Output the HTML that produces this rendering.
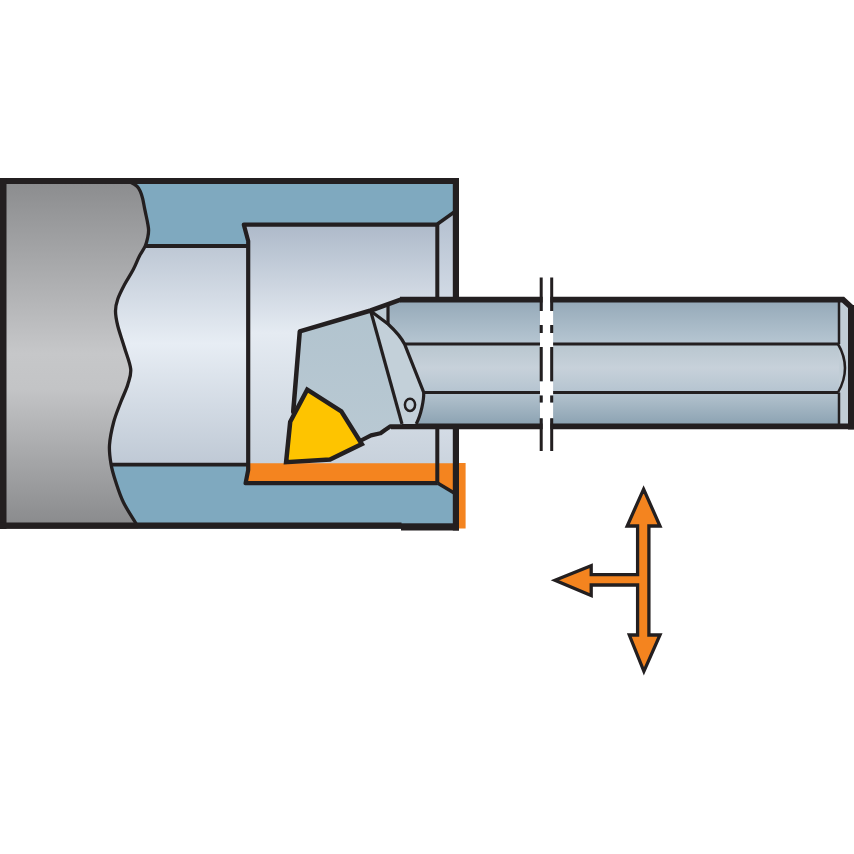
<!DOCTYPE html>
<html><head><meta charset="utf-8">
<style>
html,body{margin:0;padding:0;background:#fff;width:854px;height:854px;overflow:hidden;font-family:"Liberation Sans",sans-serif;}
svg{display:block}
</style></head>
<body>
<svg width="854" height="854" viewBox="0 0 854 854">
<defs>
  <linearGradient id="gGray" x1="0" y1="178" x2="0" y2="529" gradientUnits="userSpaceOnUse">
    <stop offset="0" stop-color="#8a8b8d"/>
    <stop offset="0.5" stop-color="#c6c7c9"/>
    <stop offset="0.6" stop-color="#c3c4c6"/>
    <stop offset="1" stop-color="#88898b"/>
  </linearGradient>
  <linearGradient id="gBore" x1="0" y1="245" x2="0" y2="464" gradientUnits="userSpaceOnUse">
    <stop offset="0" stop-color="#bdc7d4"/>
    <stop offset="0.45" stop-color="#e7edf4"/>
    <stop offset="1" stop-color="#bfc9d5"/>
  </linearGradient>
  <linearGradient id="gBox" x1="0" y1="224" x2="0" y2="483" gradientUnits="userSpaceOnUse">
    <stop offset="0" stop-color="#adb9c9"/>
    <stop offset="0.42" stop-color="#e5ebf2"/>
    <stop offset="1" stop-color="#c3cdd8"/>
  </linearGradient>
  <linearGradient id="gStrip" x1="0" y1="212" x2="0" y2="493" gradientUnits="userSpaceOnUse">
    <stop offset="0" stop-color="#b3bfcf"/>
    <stop offset="0.35" stop-color="#d6dee8"/>
    <stop offset="0.7" stop-color="#d9e0e9"/>
    <stop offset="1" stop-color="#c3cdd8"/>
  </linearGradient>
  <linearGradient id="gBarTop" x1="0" y1="302" x2="0" y2="344" gradientUnits="userSpaceOnUse">
    <stop offset="0" stop-color="#96aab9"/>
    <stop offset="1" stop-color="#b6c6d2"/>
  </linearGradient>
  <linearGradient id="gBarMid" x1="0" y1="344" x2="0" y2="392" gradientUnits="userSpaceOnUse">
    <stop offset="0" stop-color="#b8c6cf"/>
    <stop offset="0.5" stop-color="#c7d1da"/>
    <stop offset="1" stop-color="#b5c4d0"/>
  </linearGradient>
  <linearGradient id="gBarBot" x1="0" y1="392" x2="0" y2="426" gradientUnits="userSpaceOnUse">
    <stop offset="0" stop-color="#b5c4cf"/>
    <stop offset="1" stop-color="#8aa1b1"/>
  </linearGradient>
  <linearGradient id="gHead" x1="0" y1="300" x2="0" y2="440" gradientUnits="userSpaceOnUse">
    <stop offset="0" stop-color="#b1c3ce"/>
    <stop offset="1" stop-color="#b9c9d3"/>
  </linearGradient>
</defs>

<!-- workpiece blue -->
<rect x="0" y="178" width="459" height="351" fill="#7fa9bf"/>
<!-- left bore -->
<rect x="100" y="245" width="150" height="219" fill="url(#gBore)"/>
<!-- inner box -->
<rect x="246" y="224" width="192" height="259" fill="url(#gBox)"/>
<!-- right strip -->
<polygon points="437.5,224 454,212 454,493 437.5,483" fill="url(#gStrip)"/>
<!-- orange -->
<polygon points="246,463.2 454,463.2 454,493 437.5,483 246,483" fill="#f4841f"/>
<rect x="457" y="463" width="8.6" height="65.5" fill="#f4841f"/>

<!-- gray left part -->
<path d="M0 178 L128 178 L128 181.5 C126.8 181.7 129.2 181.7 131.0 182.5 C132.8 183.3 135.4 184.7 137.0 186.2 C138.6 187.7 139.4 189.4 140.3 191.4 C141.2 193.4 141.9 195.7 142.6 198.4 C143.3 201.1 143.9 204.9 144.5 207.8 C145.1 210.7 145.6 213.3 146.2 216.0 C146.8 218.7 147.4 221.6 147.8 224.0 C148.2 226.4 148.6 228.1 148.6 230.3 C148.6 232.5 148.4 234.4 147.8 237.0 C147.2 239.6 146.7 242.8 145.3 245.9 C143.9 249.0 141.7 251.7 139.6 255.7 C137.5 259.7 135.6 265.1 133.0 270.0 C130.4 274.9 126.8 280.2 124.3 285.0 C121.8 289.8 119.3 294.7 117.8 299.0 C116.3 303.3 115.5 306.5 115.5 311.0 C115.5 315.5 116.3 320.0 117.8 326.0 C119.3 332.0 122.2 339.8 124.3 347.0 C126.4 354.2 130.1 362.8 130.7 369.0 C131.3 375.2 129.4 379.0 127.8 384.5 C126.2 390.0 123.1 395.8 120.8 402.0 C118.5 408.2 115.6 414.8 113.7 422.0 C111.8 429.2 110.0 438.0 109.5 445.0 C109.0 452.0 110.0 457.8 111.0 464.0 C112.0 470.2 113.7 475.6 115.8 482.0 C117.9 488.4 120.2 495.7 123.5 502.5 C126.8 509.3 133.4 519.1 135.7 523.0 C138.0 526.9 137.2 525.5 137.5 526.0 L138 529 L0 529 Z" fill="url(#gGray)"/>
<path id="wave" d="M126.0 181.5 C126.8 181.7 129.2 181.7 131.0 182.5 C132.8 183.3 135.4 184.7 137.0 186.2 C138.6 187.7 139.4 189.4 140.3 191.4 C141.2 193.4 141.9 195.7 142.6 198.4 C143.3 201.1 143.9 204.9 144.5 207.8 C145.1 210.7 145.6 213.3 146.2 216.0 C146.8 218.7 147.4 221.6 147.8 224.0 C148.2 226.4 148.6 228.1 148.6 230.3 C148.6 232.5 148.4 234.4 147.8 237.0 C147.2 239.6 146.7 242.8 145.3 245.9 C143.9 249.0 141.7 251.7 139.6 255.7 C137.5 259.7 135.6 265.1 133.0 270.0 C130.4 274.9 126.8 280.2 124.3 285.0 C121.8 289.8 119.3 294.7 117.8 299.0 C116.3 303.3 115.5 306.5 115.5 311.0 C115.5 315.5 116.3 320.0 117.8 326.0 C119.3 332.0 122.2 339.8 124.3 347.0 C126.4 354.2 130.1 362.8 130.7 369.0 C131.3 375.2 129.4 379.0 127.8 384.5 C126.2 390.0 123.1 395.8 120.8 402.0 C118.5 408.2 115.6 414.8 113.7 422.0 C111.8 429.2 110.0 438.0 109.5 445.0 C109.0 452.0 110.0 457.8 111.0 464.0 C112.0 470.2 113.7 475.6 115.8 482.0 C117.9 488.4 120.2 495.7 123.5 502.5 C126.8 509.3 133.4 519.1 135.7 523.0 C138.0 526.9 137.2 525.5 137.5 526.0" fill="none" stroke="#231f20" stroke-width="3.3"/>

<!-- band lines -->
<line x1="146" y1="246" x2="249" y2="246" stroke="#231f20" stroke-width="3.8"/>
<line x1="110" y1="464.6" x2="249" y2="464.6" stroke="#231f20" stroke-width="3.8"/>

<!-- inner box outline -->
<polyline points="439,224.6 243.8,224.6 248.2,241 248.2,470 245.6,483.2 437.5,483.2" fill="none" stroke="#231f20" stroke-width="4.2" stroke-linejoin="round"/>
<line x1="437.3" y1="224" x2="437.3" y2="483" stroke="#231f20" stroke-width="4"/>
<line x1="437.5" y1="224" x2="455" y2="211.5" stroke="#231f20" stroke-width="3.5"/>
<line x1="437.5" y1="483" x2="455" y2="493.5" stroke="#231f20" stroke-width="3.5"/>

<!-- outer border -->
<rect x="0" y="178" width="459" height="6" fill="#231f20"/>
<rect x="0" y="178" width="6.5" height="351" fill="#231f20"/>
<rect x="452.8" y="178" width="6.2" height="352.5" fill="#231f20"/>
<rect x="0" y="522.5" width="401.5" height="6.3" fill="#231f20"/>
<rect x="401" y="523.3" width="58" height="7.2" fill="#231f20"/>

<!-- boring bar -->
<rect x="388" y="302" width="462" height="42" fill="url(#gBarTop)"/>
<rect x="388" y="344" width="462" height="48.5" fill="url(#gBarMid)"/>
<rect x="388" y="392.5" width="462" height="34" fill="url(#gBarBot)"/>
<rect x="839" y="302" width="10" height="124" fill="#c1cdd6"/>
<path d="M838 344 Q852 368 838 392.5 L850 392.5 L850 344 Z" fill="#c1cdd6"/>
<line x1="395" y1="344" x2="838" y2="344" stroke="#231f20" stroke-width="3"/>
<line x1="395" y1="392.5" x2="838" y2="392.5" stroke="#231f20" stroke-width="3"/>
<line x1="839" y1="302" x2="839" y2="344" stroke="#231f20" stroke-width="2.5"/>
<line x1="839" y1="392.5" x2="839" y2="426" stroke="#231f20" stroke-width="2.5"/>
<path d="M838 344 Q852 368 838 392.5" fill="none" stroke="#231f20" stroke-width="2.5"/>
<path d="M400 299.6 L843 299.6 L851 307 L851 426.3 L391 426.3" fill="none" stroke="#231f20" stroke-width="5.7"/>
<rect x="848" y="305" width="6" height="124.5" fill="#231f20"/>

<!-- head -->
<path d="M299.8 331.4 L370.7 310.5 L402 425 L390.5 426.3 L385 430 L380.5 433.3 L371 435.4 L360 441 L361.8 443 L290 420.5 Z" fill="url(#gHead)"/>
<!-- clamp -->
<path d="M370.7 311 L388 324 C395 330.5 401 337 404.5 344 L423.7 392.4 C424 400 421 415 416.2 424 L402 424 Z" fill="#c3d0d9"/>
<polygon points="370.7,311 388,305 388,324" fill="#bdcbd5"/>
<path d="M299.8 331.4 L370.7 310.5 L400 299.8 L420 299.8" fill="none" stroke="#231f20" stroke-width="4.6" stroke-linejoin="round"/>
<path d="M299.8 331.4 L293.2 412" fill="none" stroke="#231f20" stroke-width="4.5" stroke-linecap="round"/>
<path d="M420 426.3 L390.5 426.3 L385 430 L380.5 433.3 L371 435.4 L360 441" fill="none" stroke="#231f20" stroke-width="4.2" stroke-linejoin="round"/>
<line x1="370.7" y1="311" x2="402" y2="424" stroke="#231f20" stroke-width="3.2"/>
<path d="M370.7 311 L388 324 C395 330.5 401 337 404.5 344 L423.7 392.4 C424 400 421 415 416.2 424" fill="none" stroke="#231f20" stroke-width="3.2"/>
<line x1="388" y1="304" x2="388" y2="324.5" stroke="#231f20" stroke-width="3.2"/>
<ellipse cx="410" cy="404.8" rx="5.1" ry="6.1" fill="none" stroke="#231f20" stroke-width="2.5"/>
<!-- insert -->
<polygon points="307.2,389.6 341.3,411.3 361.8,444 330,459.6 286.1,462.2 290.2,421.8" fill="#fec400" stroke="#231f20" stroke-width="4.5" stroke-linejoin="miter"/>

<!-- break -->
<rect x="542.7" y="296" width="7.6" height="134" fill="#fff"/>
<g fill="#fff"><rect x="540" y="311" width="13.1" height="14.5"/><rect x="540" y="333" width="13.1" height="14"/><rect x="540" y="381.5" width="13.1" height="14"/><rect x="540" y="402.5" width="13.1" height="16"/></g>
<g stroke="#231f20" stroke-width="3">
  <path d="M541.2 277.5 V311 M541.2 325 V333 M541.2 347 V381.3 M541.2 395.4 V402.4 M541.2 418.3 V451"/>
  <path d="M551.7 277.5 V311 M551.7 325 V333 M551.7 347 V381.3 M551.7 395.4 V402.4 M551.7 418.3 V451"/>
</g>

<!-- arrows -->
<polygon points="643.6,489.2 660,526 648.9,526 648.9,635 660,635 643.9,671.3 629.3,635 637.6,635 637.6,585 591.2,585 591.2,595.5 555,580.2 591.2,565.6 591.2,574.6 637.6,574.6 637.6,526 627.2,526" fill="#f4841f" stroke="#231f20" stroke-width="3.3" stroke-linejoin="miter"/>
</svg>
</body></html>
